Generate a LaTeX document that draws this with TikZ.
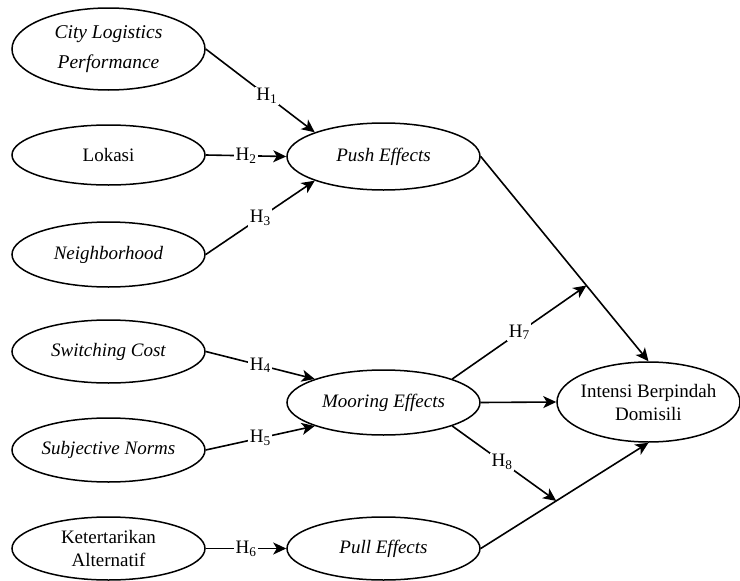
\documentclass[tikz,border=0pt]{standalone}
\usepackage{fontspec}
\setmainfont{Liberation Serif}
\usetikzlibrary{shapes.geometric,arrows.meta,calc}

\begin{document}
\begin{tikzpicture}[
  var/.style={draw, ellipse, line width=1.5pt, inner sep=0pt, minimum width=193pt,
    minimum height=63pt, align=center, font=\fontsize{19}{23}\selectfont},
  ital/.style={font=\fontsize{19}{23}\selectfont\itshape},
  hyp/.style={line width=1.6pt, -{Stealth[length=13pt,width=12pt,inset=3.5pt]}},
  hlbl/.style={fill=white, inner sep=1.5pt, font=\fontsize{19}{23}\selectfont}]
 \path[use as bounding box] (0,0) rectangle (740pt,-581pt);

% left column
\node[var, ital, minimum height=82pt, font=\fontsize{19.5}{30}\selectfont\itshape] (clp) at (108.5pt,-49pt) {City Logistics\\Performance};
\node[var, minimum height=60pt] (lok) at (108.5pt,-155pt) {Lokasi};
\node[var, ital, minimum height=65pt] (nbh) at (108.5pt,-254.5pt) {Neighborhood};
\node[var, ital] (swc) at (108.5pt,-351.5pt) {Switching Cost};
\node[var, ital, minimum height=64pt] (sbn) at (108.5pt,-450pt) {Subjective Norms};
\node[var] (ktr) at (108.5pt,-548.5pt) {Ketertarikan\\Alternatif};

% middle column
\node[var, ital, minimum height=67pt] (push) at (383.5pt,-156.5pt) {Push Effects};
\node[var, ital, minimum height=65pt] (moor) at (383.5pt,-402.5pt) {Mooring Effects};
\node[var, ital] (pull) at (383.5pt,-548.5pt) {Pull Effects};

% outcome
\node[var, inner xsep=-8pt, minimum width=183pt, minimum height=80pt] (ibd) at (648.5pt,-402pt) {Intensi Berpindah\\Domisili};

\coordinate (m7) at ($(push.east)!0.63!(ibd.north)$);
\coordinate (m8) at ($(pull.east)!0.45!(ibd.south)$);

\draw[hyp] (clp.east) -- node[hlbl, pos=0.56] {H\textsubscript{1}} (push.north west);
\draw[hyp] (lok.east) -- node[hlbl] {H\textsubscript{2}} (push.west);
\draw[hyp] (nbh.east) -- node[hlbl] {H\textsubscript{3}} (push.south west);
\draw[hyp] (swc.east) -- node[hlbl] {H\textsubscript{4}} (moor.north west);
\draw[hyp] (sbn.east) -- node[hlbl] {H\textsubscript{5}} (moor.south west);
\draw[hyp] (ktr.east) -- node[hlbl] {H\textsubscript{6}} (pull.west);

\draw[hyp] (push.east) -- (ibd.north);
\draw[hyp] (moor.east) -- (ibd.west);
\draw[hyp] (pull.east) -- (ibd.south);
\draw[hyp] (moor.north east) -- node[hlbl] {H\textsubscript{7}} (m7);
\draw[hyp] (moor.south east) -- node[hlbl, pos=0.48] {H\textsubscript{8}} (m8);

\end{tikzpicture}
\end{document}
